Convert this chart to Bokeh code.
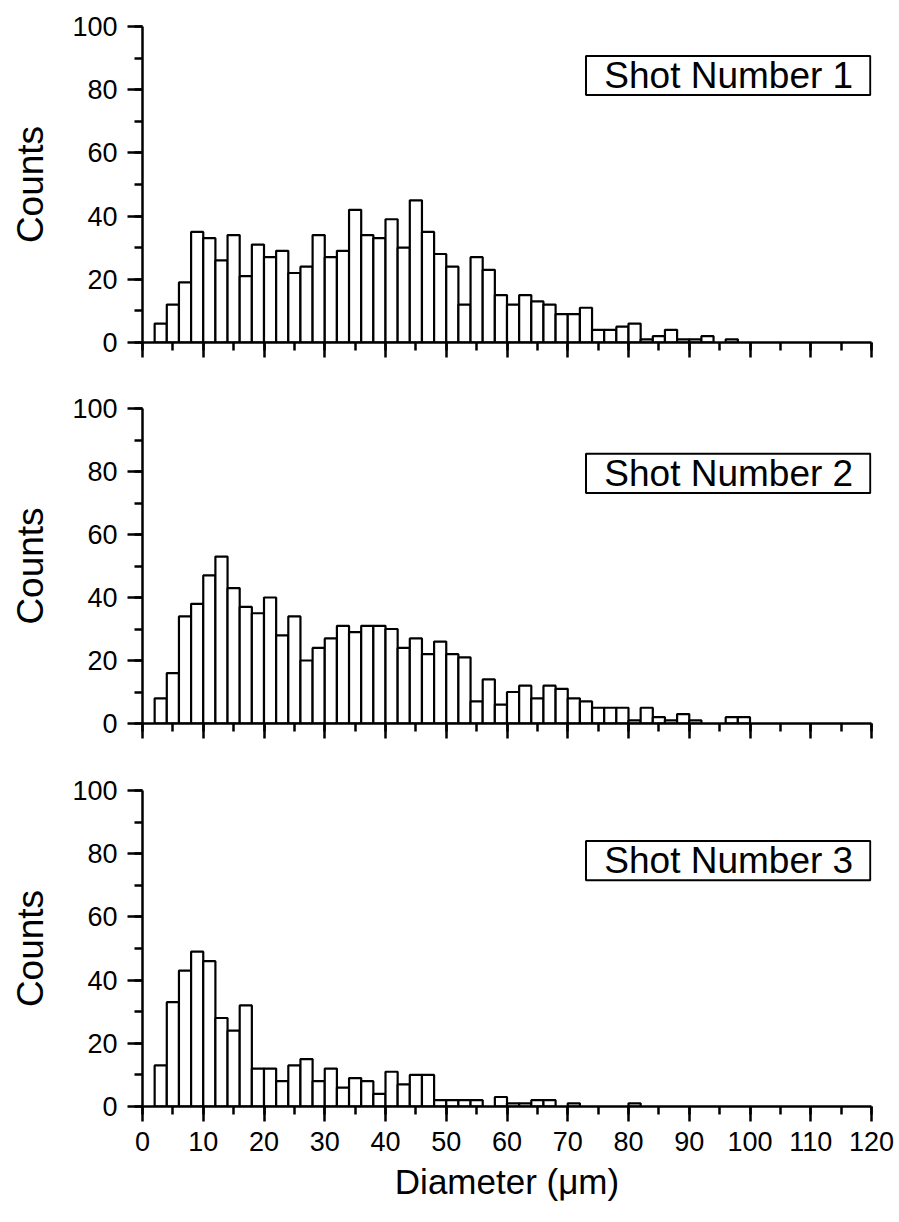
from bokeh.plotting import figure
from bokeh.models import Range1d, SingleIntervalTicker
from bokeh.layouts import column
from bokeh.core.properties import value
from bokeh.embed import file_html
from bokeh.resources import INLINE

# Histogram bins: 2 um wide, left edges 0, 2, ..., 118
BIN_WIDTH = 2
bin_left = list(range(0, 120, BIN_WIDTH))

# Counts per bin for each shot
shot1_counts = [0, 6, 12, 19, 35, 33, 26, 34, 21, 31, 27, 29, 22, 24, 34, 27, 29, 42, 34, 33,
                39, 30, 45, 35, 28, 24, 12, 27, 23, 15, 12, 15, 13, 12, 9, 9, 11, 4, 4, 5,
                6, 1, 2, 4, 1, 1, 2, 0, 1, 0, 0, 0, 0, 0, 0, 0, 0, 0, 0, 0]
shot2_counts = [0, 8, 16, 34, 38, 47, 53, 43, 37, 35, 40, 28, 34, 20, 24, 27, 31, 29, 31, 31,
                30, 24, 27, 22, 26, 22, 21, 7, 14, 6, 10, 12, 8, 12, 11, 8, 7, 5, 5, 5,
                1, 5, 2, 1, 3, 1, 0, 0, 2, 2, 0, 0, 0, 0, 0, 0, 0, 0, 0, 0]
shot3_counts = [0, 13, 33, 43, 49, 46, 28, 24, 32, 12, 12, 8, 13, 15, 8, 12, 6, 9, 8, 4,
                11, 7, 10, 10, 2, 2, 2, 2, 0, 3, 1, 1, 2, 2, 0, 1, 0, 0, 0, 0,
                1, 0, 0, 0, 0, 0, 0, 0, 0, 0, 0, 0, 0, 0, 0, 0, 0, 0, 0, 0]

shot_labels = ["Shot Number 1", "Shot Number 2", "Shot Number 3"]
x_tick_values = list(range(0, 121, 10))
x_ticks_interval = 10
y_ticks_interval = 20

FONT = "Liberation Sans"


def make_panel(counts, title, label_y, height, top_border, bottom_border, show_x_labels):
    p = figure(width=899, height=height, output_backend="svg", toolbar_location=None,
               x_range=Range1d(0, 120), y_range=Range1d(0, 100),
               min_border_left=142, min_border_right=28,
               min_border_top=top_border, min_border_bottom=bottom_border)
    p.outline_line_color = None
    p.xgrid.visible = False
    p.ygrid.visible = False
    p.background_fill_color = "white"
    p.border_fill_color = "white"

    left = [l for l, c in zip(bin_left, counts) if c > 0]
    top = [c for c in counts if c > 0]
    right = [l + BIN_WIDTH for l in left]
    p.quad(left=left, right=right, bottom=0, top=top,
           fill_color="white", line_color="black", line_width=2.2)

    # caption box in the upper right
    p.quad(left=[73], right=[119.8], bottom=[label_y - 6.2], top=[label_y + 6.2],
           fill_color="white", line_color="black", line_width=2)
    p.text(x=[96.5], y=[label_y], text=[title], text_align="center",
           text_baseline="middle", text_font=value(FONT), text_font_size="37px",
           text_color="black")

    p.xaxis.ticker = SingleIntervalTicker(interval=x_ticks_interval, num_minor_ticks=2)
    p.yaxis.ticker = SingleIntervalTicker(interval=y_ticks_interval, num_minor_ticks=2)

    for ax in (p.xaxis[0], p.yaxis[0]):
        ax.axis_line_width = 2.5
        ax.axis_line_color = "black"
        ax.major_tick_line_width = 2.5
        ax.minor_tick_line_width = 2.5
        ax.major_tick_line_color = "black"
        ax.minor_tick_line_color = "black"
        ax.major_tick_in = 0
        ax.major_tick_out = 15
        ax.minor_tick_in = 0
        ax.minor_tick_out = 8
        ax.major_label_text_font = FONT
        ax.major_label_text_font_size = "27px"
        ax.major_label_text_color = "black"
        ax.major_label_standoff = 10
        ax.axis_label_text_font = FONT
        ax.axis_label_text_font_size = "37px"
        ax.axis_label_text_font_style = "normal"
        ax.axis_label_text_color = "black"

    p.yaxis.axis_label = "Counts"
    p.yaxis.axis_label_standoff = 18

    if show_x_labels:
        p.xaxis.axis_label = "Diameter (\u03bcm)"
        p.xaxis.axis_label_text_font_size = "35px"
        p.xaxis.axis_label_standoff = 8
    else:
        # upper panels share the bottom axis: ticks only, no numbers
        p.xaxis.major_label_overrides = {v: "" for v in x_tick_values}
        p.xaxis.major_label_standoff = 0
    return p


p1 = make_panel(shot1_counts, shot_labels[0], 84.5, 388, 26, 46, False)
p2 = make_panel(shot2_counts, shot_labels[1], 79.4, 382, 20, 47, False)
p3 = make_panel(shot3_counts, shot_labels[2], 77.8, 452, 20, 116, True)

layout = column(p1, p2, p3, spacing=0)
open("out.html", "w").write(file_html(layout, INLINE))
